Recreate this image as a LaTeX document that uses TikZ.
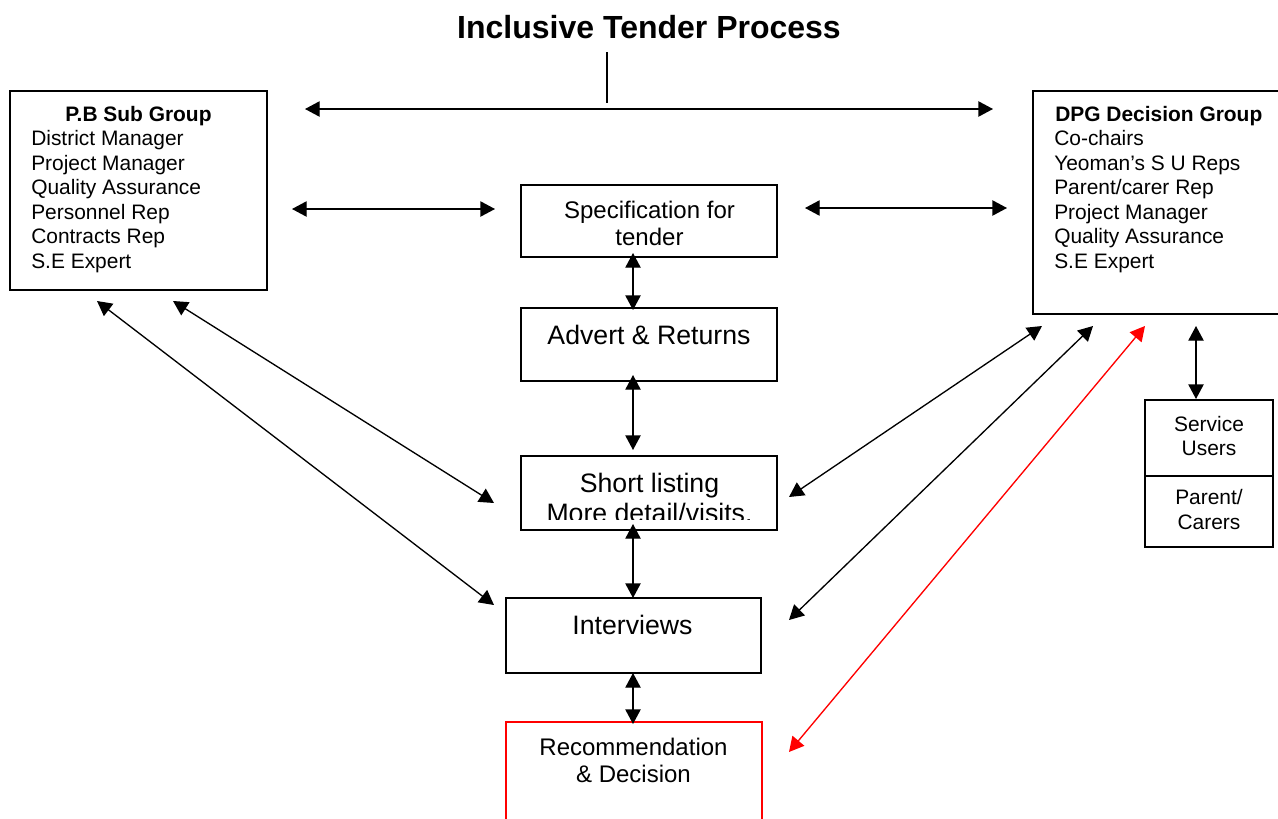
\documentclass[tikz,border=0pt]{standalone}
\usepackage{fontspec}
\setmainfont{Liberation Sans}
\usetikzlibrary{arrows.meta,fit}
\begin{document}
\begin{tikzpicture}[x=0.75pt,y=-0.75pt,
 box/.style={draw,line width=1.3pt,inner sep=0pt,rectangle},
 redbox/.style={box,draw=red},
 dbl/.style={line width=1pt,{Triangle[length=11pt,width=11.5pt]}-{Triangle[length=11pt,width=11.5pt]}},
 redarr/.style={dbl,draw=red,fill=red},
 lst/.style={anchor=base west,inner sep=0pt,font=\fontsize{15.7}{18}\selectfont},
 lstb/.style={anchor=base west,inner sep=0pt,font=\fontsize{15.7}{18}\selectfont\bfseries},
 ctr/.style={anchor=base,inner sep=0pt},
 big/.style={ctr,font=\fontsize{20}{24}\selectfont},
 mid/.style={ctr,font=\fontsize{18}{22}\selectfont},
 sml/.style={ctr,font=\fontsize{15.7}{18}\selectfont}]
\useasboundingbox (0,0) rectangle (1278,818);

% title
\node[ctr,font=\fontsize{24}{28}\selectfont\bfseries] (title) at (649,38.5) {Inclusive Tender Process};

% boxes
\node[box,fit={(10,91) (267,290)}] (pb) {};
\node[box,fit={(1033,91) (1295,314)}] (dpg) {};
\node[box,fit={(521,185) (777,257)}] (spec) {};
\node[box,fit={(521,308) (777,381)}] (advert) {};
\node[box,fit={(521,456) (777,530)}] (short) {};
\node[box,fit={(506,598) (761,673)}] (interv) {};
\node[redbox,fit={(506,722) (762,835)}] (rec) {};
\node[box,fit={(1145,400) (1273,476)}] (su) {};
\node[box,fit={(1145,476) (1273,547)}] (pc) {};

% P.B Sub Group text
\node[ctr,font=\fontsize{15.7}{18}\selectfont\bfseries] (pbt) at (138.5,121.5) {P.B Sub Group};
\node[lst] (pb1) at (31,145.5) {District Manager};
\node[lst] (pb2) at (31,170) {Project Manager};
\node[lst] (pb3) at (31,194.5) {Quality Assurance};
\node[lst] (pb4) at (31,219) {Personnel Rep};
\node[lst] (pb5) at (31,243.5) {Contracts Rep};
\node[lst] (pb6) at (31,268) {S.E Expert};

% DPG text
\node[lstb] (dpgt) at (1055,121.5) {DPG Decision Group};
\node[lst] (d1) at (1054,145.5) {Co-chairs};
\node[lst] (d2) at (1054,170) {Yeoman’s S U Reps};
\node[lst] (d3) at (1054,194.5) {Parent/carer Rep};
\node[lst] (d4) at (1054,219) {Project Manager};
\node[lst] (d5) at (1054,243.5) {Quality Assurance};
\node[lst] (d6) at (1054,268) {S.E Expert};

% central texts
\node[mid] (spec1) at (649.5,218.6) {Specification for};
\node[mid] (spec2) at (649.5,245.6) {tender};
\node[big] (advt) at (649,344.5) {Advert \& Returns};
\node[big] (sh1) at (649.5,492.5) {Short listing};
\begin{scope}
\clip (521,456) rectangle (777,519.5);
\node[big] (sh2) at (649.5,522.5) {More detail/visits.};
\end{scope}
\node[big] (intt) at (632.5,634.5) {Interviews};
\node[mid] (rec1) at (633.5,755.6) {Recommendation};
\node[mid] (rec2) at (633.5,782.6) {\& Decision};

% service users
\node[sml] (su1) at (1209,431.5) {Service};
\node[sml] (su2) at (1209,455.5) {Users};
\node[sml] (pc1) at (1209,504.5) {Parent/};
\node[sml] (pc2) at (1209,529.5) {Carers};

% connector end points
\coordinate (v1) at (607,52);
\coordinate (v2) at (607,103);
\coordinate (h1) at (305,109);
\coordinate (h2) at (993,109);
\coordinate (a1) at (292,209);
\coordinate (a2) at (495,209);
\coordinate (b1) at (805,208);
\coordinate (b2) at (1007,208);
\coordinate (c1) at (633,253);
\coordinate (c2) at (633,310);
\coordinate (e1) at (633,375);
\coordinate (e2) at (633,450);
\coordinate (f1) at (633,524);
\coordinate (f2) at (633,598);
\coordinate (g1) at (633,673);
\coordinate (g2) at (633,724);
\coordinate (p1) at (97,301);
\coordinate (p2) at (494,605);
\coordinate (q1) at (173,301);
\coordinate (q2) at (494,503);
\coordinate (r1) at (1042,326);
\coordinate (r2) at (789,497);
\coordinate (s1) at (1093,326);
\coordinate (s2) at (789,620);
\coordinate (u1) at (1145,326);
\coordinate (u2) at (789,752);
\coordinate (w1) at (1196,326);
\coordinate (w2) at (1196,399);

% connectors
\draw[line width=1pt] (v1) -- (v2);
\draw[dbl] (h1) -- (h2);
\draw[dbl] (a1) -- (a2);
\draw[dbl] (b1) -- (b2);
\draw[dbl] (c1) -- (c2);
\draw[dbl] (e1) -- (e2);
\draw[dbl] (f1) -- (f2);
\draw[dbl] (g1) -- (g2);
\draw[dbl] (p1) -- (p2);
\draw[dbl] (q1) -- (q2);
\draw[dbl] (r1) -- (r2);
\draw[dbl] (s1) -- (s2);
\draw[redarr] (u1) -- (u2);
\draw[dbl] (w1) -- (w2);
\end{tikzpicture}
\end{document}
